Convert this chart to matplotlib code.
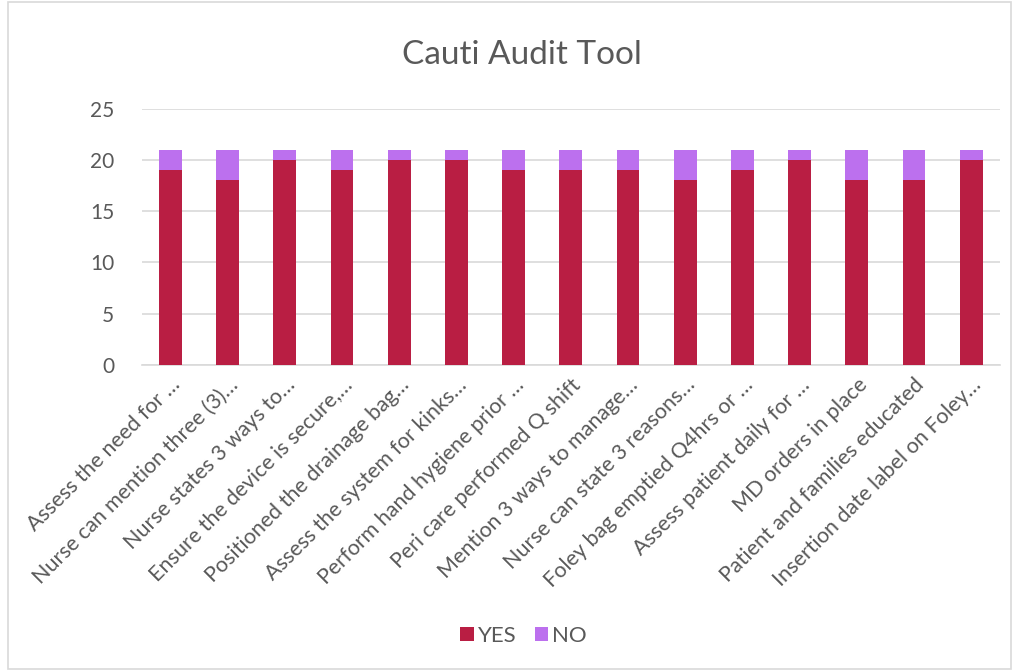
import matplotlib.pyplot as plt
from matplotlib.patches import Rectangle

plt.rcParams['font.family'] = ['Lato', 'DejaVu Sans']

# data
items = [
    "Assess the need for …", "Nurse can mention three (3)…", "Nurse states 3 ways to…",
    "Ensure the device is secure,…", "Positioned the drainage bag…", "Assess the system for kinks…",
    "Perform hand hygiene prior …", "Peri care performed Q shift", "Mention 3 ways to manage…",
    "Nurse can state 3 reasons…", "Foley bag emptied Q4hrs or …", "Assess patient daily for …",
    "MD orders in place", "Patient and families educated", "Insertion date label on Foley…",
]
yes_vals = [19, 18, 20, 19, 20, 20, 19, 19, 19, 18, 19, 20, 18, 18, 20]
no_vals = [2, 3, 1, 2, 1, 1, 2, 2, 2, 3, 2, 1, 3, 3, 1]
y_ticks = [0, 5, 10, 15, 20, 25]

text_col = "#595959"
yes_col = "#B91E43"
no_col = "#BC70EE"

fig = plt.figure(figsize=(10.13, 6.71), dpi=100, facecolor="white")
ax = fig.add_axes([0.140, 0.456, 0.847, 0.382])

x = range(len(items))
ax.bar(x, yes_vals, width=0.4, color=yes_col, label="YES", zorder=3)
ax.bar(x, no_vals, width=0.4, bottom=yes_vals, color=no_col, label="NO", zorder=3)

ax.set_xlim(-0.5, len(items) - 0.5)
ax.set_ylim(0, 25)
ax.set_yticks(y_ticks)
ax.grid(axis="y", color="#D9D9D9", linewidth=1.2, zorder=0)
for s in ["top", "right", "left"]:
    ax.spines[s].set_visible(False)
ax.spines["bottom"].set_color("#D9D9D9")
ax.spines["bottom"].set_linewidth(1.2)
ax.tick_params(axis="y", length=0, labelsize=15, colors=text_col, pad=20)
ax.tick_params(axis="x", length=0, labelsize=15.5, colors=text_col, pad=7)
ax.set_xticks(list(x))
ax.set_xticklabels(items, rotation=45, ha="right", rotation_mode="anchor")

fig.text(0.515, 0.918, "Cauti Audit Tool", ha="center", va="center", fontsize=24, color=text_col)

fig.legend(loc="center", bbox_to_anchor=(0.517, 0.052), ncol=2, frameon=False,
           fontsize=16, labelcolor=text_col, handlelength=0.6, handleheight=0.6,
           columnspacing=0.8, handletextpad=0.2)

# chart border
fig.add_artist(Rectangle((0.008, 0.003), 0.99, 0.994, transform=fig.transFigure,
                         fill=False, edgecolor="#D9D9D9", linewidth=1.2))

fig.savefig("out.png", dpi=100, facecolor="white")
